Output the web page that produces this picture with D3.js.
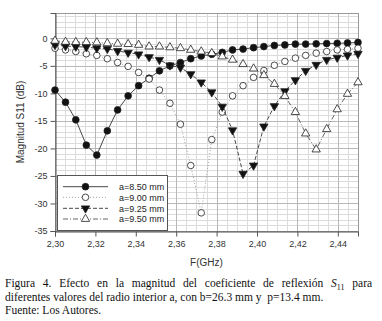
<!DOCTYPE html>
<html>
<head>
<meta charset="utf-8">
<script src="https://cdn.jsdelivr.net/npm/d3@7"></script>
<style>
  body { margin: 0; background: #fff; }
  svg { display: block; }
</style>
</head>
<body>
<div id="chart"></div>
<script>
'use strict';

// frequencies (GHz), 30 simulated points from 2.30 to 2.45
const freqs = [2.3000, 2.3052, 2.3103, 2.3155, 2.3207, 2.3259, 2.3310, 2.3362, 2.3414, 2.3466,
               2.3517, 2.3569, 2.3621, 2.3672, 2.3724, 2.3776, 2.3828, 2.3879, 2.3931, 2.3983,
               2.4034, 2.4086, 2.4138, 2.4190, 2.4241, 2.4293, 2.4345, 2.4397, 2.4448, 2.4500];

const s11_850 = [-9.4, -11.6, -14.8, -19.4, -21.2, -16.8, -13.0, -10.45, -8.6, -7.25,
                 -5.9, -5.0, -4.4, -3.7, -3.2, -2.9, -2.55, -2.1, -1.95, -1.7,
                 -1.5, -1.3, -1.2, -1.05, -1.05, -1.0, -0.95, -0.9, -0.85, -0.75];
const s11_900 = [-1.8, -2.1, -2.4, -2.8, -3.1, -3.7, -4.4, -5.1, -6.2, -7.4,
                 -9.4, -11.8, -15.6, -23.1, -31.7, -18.4, -13.4, -10.45, -8.6, -7.1,
                 -5.85, -4.9, -4.2, -3.6, -3.1, -2.7, -2.4, -2.1, -2.0, -1.8];
const s11_925 = [-1.2, -1.4, -1.5, -1.6, -1.8, -1.9, -2.3, -2.6, -2.9, -3.4,
                 -3.9, -4.9, -5.3, -6.5, -8.0, -9.8, -12.4, -16.7, -24.6, -23.1,
                 -16.0, -12.3, -9.6, -7.6, -5.9, -4.8, -3.9, -3.5, -3.1, -2.8];
const s11_950 = [-0.45, -0.65, -0.7, -0.7, -0.75, -0.9, -1.0, -1.05, -1.2, -1.5,
                 -1.5, -1.65, -1.8, -2.1, -2.4, -2.7, -3.3, -3.9, -4.7, -5.5,
                 -6.7, -8.3, -10.5, -13.4, -17.3, -20.2, -16.5, -12.9, -10.1, -8.0];

const seriesNames = ['a=8.50 mm', 'a=9.00 mm', 'a=9.25 mm', 'a=9.50 mm'];
const xTicks = [2.30, 2.32, 2.34, 2.36, 2.38, 2.40, 2.42, 2.44];
const yTicks = [0, -5, -10, -15, -20, -25, -30, -35];

const captionLines = [
    'Figura 4. Efecto en la magnitud del coeficiente de reflexión',
    'diferentes valores del radio interior a, con b=26.3 mm y  p=13.4 mm.',
    'Fuente: Los Autores.'
];

const W = 382, H = 321;
const plot = { left: 55, right: 358, top: 13, bottom: 231 };

const svg = d3.select('#chart').append('svg')
    .attr('width', W)
    .attr('height', H);

const x = d3.scaleLinear().domain([2.30, 2.45]).range([plot.left, plot.right]);
const y = d3.scaleLinear().domain([-35, 4.6]).range([plot.bottom, plot.top]);

// grid
const grid = svg.append('g');
const minorX = d3.range(2.305, 2.45, 0.005).filter(v => Math.abs((v - 2.30) / 0.02 - Math.round((v - 2.30) / 0.02)) > 0.01);
const minorY = d3.range(-34, 5, 1).filter(v => v % 5 !== 0);

grid.selectAll('.mx').data(minorX).join('line')
    .attr('x1', d => Math.round(x(d)) + 0.5).attr('x2', d => Math.round(x(d)) + 0.5)
    .attr('y1', plot.top).attr('y2', plot.bottom)
    .attr('stroke', '#dcdcdc').attr('stroke-width', 1);
grid.selectAll('.my').data(minorY).join('line')
    .attr('x1', plot.left).attr('x2', plot.right)
    .attr('y1', d => Math.round(y(d)) + 0.5).attr('y2', d => Math.round(y(d)) + 0.5)
    .attr('stroke', '#dcdcdc').attr('stroke-width', 1);
grid.selectAll('.Mx').data(xTicks.slice(1)).join('line')
    .attr('x1', d => Math.round(x(d)) + 0.5).attr('x2', d => Math.round(x(d)) + 0.5)
    .attr('y1', plot.top).attr('y2', plot.bottom)
    .attr('stroke', '#b8b8b8').attr('stroke-width', 1);
grid.selectAll('.My').data(yTicks.slice(0, -1)).join('line')
    .attr('x1', plot.left).attr('x2', plot.right)
    .attr('y1', d => Math.round(y(d)) + 0.5).attr('y2', d => Math.round(y(d)) + 0.5)
    .attr('stroke', '#b8b8b8').attr('stroke-width', 1);

// frame
svg.append('rect')
    .attr('x', plot.left + 0.5).attr('y', plot.top + 0.5)
    .attr('width', plot.right - plot.left).attr('height', plot.bottom - plot.top)
    .attr('fill', 'none').attr('stroke', '#999');

// axes
const fmt = d => d3.format('.2f')(d).replace('.', ',');
const xAxis = svg.append('g')
    .attr('transform', `translate(0,${plot.bottom + 0.5})`)
    .call(d3.axisBottom(x).tickValues(xTicks).tickFormat(fmt).tickSize(5).tickPadding(4));
const yAxis = svg.append('g')
    .attr('transform', `translate(${plot.left + 0.5},0)`)
    .call(d3.axisLeft(y).tickValues(yTicks).tickFormat(d => d).tickSize(5).tickPadding(3));
[xAxis, yAxis].forEach(a => {
    a.select('.domain').attr('stroke', '#555');
    a.selectAll('.tick line').attr('stroke', '#555');
    a.selectAll('.tick text').attr('fill', '#333')
        .style('font-family', 'Arial, "Liberation Sans", sans-serif').style('font-size', '9px');
});

svg.append('text')
    .attr('x', (plot.left + plot.right) / 2).attr('y', 266)
    .attr('text-anchor', 'middle')
    .style('font-family', 'Arial, "Liberation Sans", sans-serif').style('font-size', '10px')
    .attr('fill', '#333')
    .text('F(GHz)');

svg.append('text')
    .attr('transform', `translate(24,${(plot.top + plot.bottom) / 2}) rotate(-90)`)
    .attr('text-anchor', 'middle')
    .style('font-family', 'Arial, "Liberation Sans", sans-serif').style('font-size', '10px')
    .attr('fill', '#333')
    .text('Magnitud S11 (dB)');

// series
const series = [
    { name: seriesNames[0], values: s11_850, dash: null, lineColor: '#333', symbol: d3.symbolCircle, size: 36, fill: '#111', rot: 0 },
    { name: seriesNames[1], values: s11_900, dash: '1,2', lineColor: '#999', symbol: d3.symbolCircle, size: 34, fill: '#fff', rot: 0 },
    { name: seriesNames[2], values: s11_925, dash: '4,2', lineColor: '#333', symbol: d3.symbolTriangle, size: 30, fill: '#111', rot: 180 },
    { name: seriesNames[3], values: s11_950, dash: '5,2,1,2', lineColor: '#555', symbol: d3.symbolTriangle, size: 30, fill: '#fff', rot: 0 }
];

const line = d3.line().x(d => x(d[0])).y(d => y(d[1]));

series.forEach(s => {
    const pts = freqs.map((f, i) => [f, s.values[i]]);
    const g = svg.append('g');
    g.append('path')
        .datum(pts)
        .attr('d', line)
        .attr('fill', 'none')
        .attr('stroke', s.lineColor)
        .attr('stroke-width', 0.9)
        .attr('stroke-dasharray', s.dash);
    g.selectAll('path.m').data(pts).join('path')
        .attr('class', 'm')
        .attr('d', d3.symbol().type(s.symbol).size(s.size))
        .attr('transform', d => `translate(${x(d[0])},${y(d[1])}) rotate(${s.rot})`)
        .attr('fill', s.fill)
        .attr('stroke', '#222')
        .attr('stroke-width', 0.8);
});

// legend
const legend = svg.append('g');
legend.append('rect')
    .attr('x', 57.5).attr('y', 175.5).attr('width', 110).attr('height', 55)
    .attr('fill', '#fff').attr('stroke', '#555');
const rowsY = [186.7, 197.3, 208.3, 219];
series.forEach((s, i) => {
    const ly = rowsY[i];
    legend.append('line')
        .attr('x1', 63).attr('x2', 108).attr('y1', ly).attr('y2', ly)
        .attr('stroke', s.lineColor).attr('stroke-width', 0.9)
        .attr('stroke-dasharray', s.dash);
    legend.append('path')
        .attr('d', d3.symbol().type(s.symbol).size(s.size)())
        .attr('transform', `translate(85.5,${ly}) rotate(${s.rot})`)
        .attr('fill', s.fill).attr('stroke', '#222').attr('stroke-width', 0.8);
    legend.append('text')
        .attr('x', 119).attr('y', ly + 3.2)
        .style('font-family', 'Arial, "Liberation Sans", sans-serif').style('font-size', '9px')
        .attr('fill', '#222')
        .text(s.name);
});

// caption
const cap = svg.append('g')
    .style('font-family', '"Liberation Serif", "Times New Roman", serif')
    .style('font-size', '11.5px')
    .attr('fill', '#111');

const l1 = cap.append('text').attr('x', 5).attr('y', 287);
l1.append('tspan').text(captionLines[0] + ' ');
l1.append('tspan').style('font-style', 'italic').text('S');
l1.append('tspan').attr('dy', 2.5).style('font-size', '8px').text('11');
l1.append('tspan').attr('dy', -2.5).text(' para');
// justify first line
const natural = l1.node().getComputedTextLength();
const spaces = (captionLines[0] + '  ').split(' ').length - 1 + 1;
l1.style('word-spacing', `${(372 - natural) / spaces}px`);

cap.append('text').attr('x', 5).attr('y', 300.5).text(captionLines[1]).style('white-space', 'pre');
cap.append('text').attr('x', 5).attr('y', 314).text(captionLines[2]);
</script>
</body>
</html>
